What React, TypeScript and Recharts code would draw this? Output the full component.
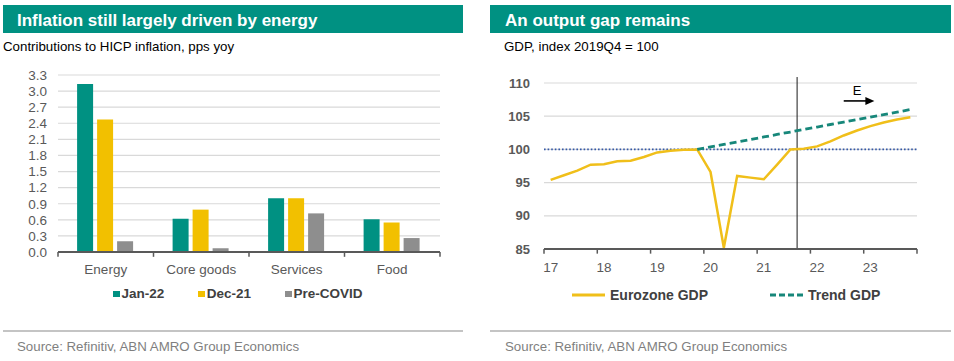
import React from 'react';
import {
  BarChart,
  Bar,
  LineChart,
  Line,
  XAxis,
  YAxis,
  CartesianGrid,
  Legend,
  ReferenceLine,
} from 'recharts';

// Left: contributions to HICP inflation, pps yoy
const categories = ['Energy', 'Core goods', 'Services', 'Food'];
const jan22 = [3.13, 0.62, 1.0, 0.61];
const dec21 = [2.47, 0.79, 1.0, 0.55];
const preCovid = [0.2, 0.07, 0.72, 0.26];
const inflationTicks = [0, 0.3, 0.6, 0.9, 1.2, 1.5, 1.8, 2.1, 2.4, 2.7, 3.0, 3.3];
const barSeries = ['Jan-22', 'Dec-21', 'Pre-COVID'];

// Right: GDP, index 2019Q4 = 100 (quarterly)
const quarters = [
  '2017Q1', '2017Q2', '2017Q3', '2017Q4',
  '2018Q1', '2018Q2', '2018Q3', '2018Q4',
  '2019Q1', '2019Q2', '2019Q3', '2019Q4',
  '2020Q1', '2020Q2', '2020Q3', '2020Q4',
  '2021Q1', '2021Q2', '2021Q3', '2021Q4',
  '2022Q1', '2022Q2', '2022Q3', '2022Q4',
  '2023Q1', '2023Q2', '2023Q3', '2023Q4',
];
const eurozoneGdp = [
  95.4, 96.1, 96.8, 97.7,
  97.75, 98.2, 98.3, 98.85,
  99.55, 99.8, 99.95, 100.0,
  96.6, 85.2, 96.0, 95.75,
  95.5, 97.7, 100.0, 100.1,
  100.45, 101.2, 102.1, 102.85,
  103.5, 104.05, 104.5, 104.85,
];
const trendGdp = [
  null, null, null, null,
  null, null, null, null,
  null, null, null, 100.0,
  100.37, 100.75, 101.12, 101.5,
  101.87, 102.25, 102.62, 103.0,
  103.37, 103.75, 104.12, 104.5,
  104.87, 105.25, 105.62, 106.0,
];
const gdpTicks = [85, 90, 95, 100, 105, 110];
const lineSeries = ['Eurozone GDP', 'Trend GDP'];
const forecastStart = '2021Q4';
const arrowFrom = '2022Q3';
const arrowTo = '2023Q1';

const TEAL = '#009182';
const YELLOW = '#F2C000';
const GREY = '#8E8E8E';
const LINE_YELLOW = '#F0BF1A';
const TREND = '#17877A';
const DOTTED = '#3559A8';
const AXIS = '#595959';
const FONT = 'Arial, "Liberation Sans", sans-serif';

const barData = categories.map((c, i) => ({
  category: c,
  jan22: jan22[i],
  dec21: dec21[i],
  preCovid: preCovid[i],
}));

const gdpData = quarters.map((q, i) => ({
  quarter: q,
  gdp: eurozoneGdp[i],
  trend: trendGdp[i],
}));

const inOrder = (payload: any[], order: string[]) =>
  [...(payload || [])].sort((a, b) => order.indexOf(a.value) - order.indexOf(b.value));

const SquareLegend = ({ payload }: any) => (
  <div style={{ display: 'flex', alignItems: 'center', fontSize: 13.5, fontWeight: 'bold', color: '#404040', lineHeight: '18px', fontFamily: FONT }}>
    {inOrder(payload, barSeries).map((p: any) => (
      <span key={p.value} style={{ display: 'flex', alignItems: 'center', marginRight: 34 }}>
        <span style={{ display: 'inline-block', width: 6.5, height: 6.5, background: p.color, marginRight: 2 }} />
        {p.value}
      </span>
    ))}
  </div>
);

const LineLegend = ({ payload }: any) => (
  <div style={{ display: 'flex', alignItems: 'center', fontSize: 14, fontWeight: 'bold', color: '#404040', lineHeight: '18px', fontFamily: FONT }}>
    {inOrder(payload, lineSeries).map((p: any) => (
      <span key={p.value} style={{ display: 'flex', alignItems: 'center', marginRight: 62 }}>
        <svg width={33} height={4} style={{ marginRight: 5 }}>
          <line x1={0} y1={2} x2={33} y2={2} stroke={p.color} strokeWidth={3} strokeDasharray={p.payload?.strokeDasharray ? '6 3' : undefined} />
        </svg>
        {p.value}
      </span>
    ))}
  </div>
);

const ArrowShape = (props: any) => {
  const { x1, y1, x2, y2 } = props;
  return (
    <g>
      <line x1={x1} y1={y1} x2={x2 - 2} y2={y2} stroke="#000" strokeWidth={1.6} />
      <polygon points={`${x2 + 4},${y2} ${x2 - 5},${y2 - 4} ${x2 - 5},${y2 + 4}`} fill="#000" />
    </g>
  );
};

const Panel = ({ left, width, title, subtitle, titleInset, subInset, children }: any) => (
  <div style={{ position: 'absolute', left, top: 0, width, height: 361 }}>
    <div style={{ position: 'absolute', left: 0, top: 5, width, height: 28, background: TEAL, color: '#fff', fontWeight: 'bold', fontSize: 17, lineHeight: '32px', paddingLeft: titleInset, boxSizing: 'border-box', overflow: 'hidden', whiteSpace: 'nowrap' }}>
      {title}
    </div>
    <div style={{ position: 'absolute', left: subInset, top: 39, fontSize: 13.3, lineHeight: '16px', color: '#000', whiteSpace: 'nowrap' }}>
      {subtitle}
    </div>
    <div style={{ position: 'absolute', left: 0, top: 330, width, height: 2, background: '#C4C4C4' }} />
    <div style={{ position: 'absolute', left: titleInset, top: 339, fontSize: 13.3, lineHeight: '16px', color: '#7F7F7F', whiteSpace: 'nowrap' }}>
      Source: Refinitiv, ABN AMRO Group Economics
    </div>
    {children}
  </div>
);

export default function App() {
  const lastCat = categories[categories.length - 1];
  const lastQuarter = quarters[quarters.length - 1];
  return (
    <div style={{ position: 'absolute', left: 0, top: 0, width: 954, height: 361, background: '#fff', fontFamily: FONT, overflow: 'hidden' }}>
      <Panel left={3} width={460} title="Inflation still largely driven by energy" subtitle="Contributions to HICP inflation, pps yoy" titleInset={14} subInset={0}>
        <div style={{ position: 'absolute', left: -3, top: 0 }}>
          <BarChart width={477} height={320} data={barData} margin={{ top: 75, right: 37, bottom: 38, left: 0 }} barCategoryGap="20%" barGap={4}>
            <CartesianGrid vertical={false} stroke="#D9D9D9" strokeWidth={1.2} />
            <XAxis
              dataKey="category"
              height={30}
              tickLine={false}
              tickSize={0}
              tickMargin={12}
              axisLine={{ stroke: AXIS, strokeWidth: 2 }}
              tick={{ fill: AXIS, fontSize: 13.5 }}
            />
            <YAxis
              width={58}
              domain={[0, 3.3]}
              ticks={inflationTicks}
              interval={0}
              tickFormatter={(v: number) => v.toFixed(1)}
              axisLine={false}
              tickLine={false}
              tickSize={0}
              tickMargin={11}
              tick={{ fill: AXIS, fontSize: 13.5 }}
            />
            {categories.map((c) => (
              <ReferenceLine key={c} segment={[{ x: c, y: 0 }, { x: c, y: -0.09 }]} position="start" ifOverflow="visible" stroke={AXIS} strokeWidth={1.5} />
            ))}
            <ReferenceLine segment={[{ x: lastCat, y: 0 }, { x: lastCat, y: -0.09 }]} position="end" ifOverflow="visible" stroke={AXIS} strokeWidth={1.5} />
            <Legend
              layout="horizontal"
              verticalAlign="middle"
              align="center"
              content={<SquareLegend />}
              wrapperStyle={{ top: 285, left: 113, width: 'auto' }}
            />
            <Bar dataKey="jan22" name="Jan-22" fill={TEAL} isAnimationActive={false} />
            <Bar dataKey="dec21" name="Dec-21" fill={YELLOW} isAnimationActive={false} />
            <Bar dataKey="preCovid" name="Pre-COVID" fill={GREY} isAnimationActive={false} />
          </BarChart>
        </div>
      </Panel>

      <Panel left={490} width={461} title="An output gap remains" subtitle="GDP, index 2019Q4 = 100" titleInset={15} subInset={14}>
        <div style={{ position: 'absolute', left: -13, top: 0 }}>
          <LineChart width={477} height={320} data={gdpData} margin={{ top: 83, right: 37, bottom: 41, left: 0 }}>
            <CartesianGrid vertical={false} stroke="#D9D9D9" strokeWidth={1.2} />
            <XAxis
              dataKey="quarter"
              scale="band"
              interval={0}
              height={30}
              tickLine={false}
              tickSize={0}
              tickMargin={13}
              axisLine={{ stroke: AXIS, strokeWidth: 2 }}
              tick={{ fill: AXIS, fontSize: 13.5 }}
              tickFormatter={(q: string) => (q.endsWith('Q1') ? q.slice(2, 4) : '')}
            />
            <YAxis
              width={67}
              domain={[85, 110]}
              ticks={gdpTicks}
              interval={0}
              axisLine={false}
              tickLine={false}
              tickSize={0}
              tickMargin={14}
              tick={{ fill: AXIS, fontSize: 13, fontWeight: 'bold' }}
            />
            {quarters.filter((q) => q.endsWith('Q1')).map((q) => (
              <ReferenceLine key={q} segment={[{ x: q, y: 85 }, { x: q, y: 84.3 }]} position="start" ifOverflow="visible" stroke={AXIS} strokeWidth={1.5} />
            ))}
            <ReferenceLine segment={[{ x: lastQuarter, y: 85 }, { x: lastQuarter, y: 84.3 }]} position="end" ifOverflow="visible" stroke={AXIS} strokeWidth={1.5} />
            <ReferenceLine y={100} stroke={DOTTED} strokeWidth={1.6} strokeDasharray="1.6 2" />
            <ReferenceLine segment={[{ x: forecastStart, y: 85 }, { x: forecastStart, y: 110.9 }]} position="start" ifOverflow="visible" stroke="#1A1A1A" strokeWidth={1} />
            <ReferenceLine
              segment={[{ x: arrowFrom, y: 107.3 }, { x: arrowTo, y: 107.3 }]}
              position="middle"
              ifOverflow="visible"
              shape={ArrowShape}
              label={{ value: 'E', position: 'top', offset: 6, fill: '#000', fontSize: 13 }}
            />
            <Legend
              layout="horizontal"
              verticalAlign="middle"
              align="center"
              content={<LineLegend />}
              wrapperStyle={{ top: 286, left: 95, width: 'auto' }}
            />
            <Line type="linear" dataKey="gdp" name="Eurozone GDP" stroke={LINE_YELLOW} strokeWidth={2.5} dot={false} activeDot={false} isAnimationActive={false} />
            <Line type="linear" dataKey="trend" name="Trend GDP" stroke={TREND} strokeWidth={2.8} strokeDasharray="7 4" dot={false} activeDot={false} isAnimationActive={false} />
          </LineChart>
        </div>
      </Panel>
    </div>
  );
}
